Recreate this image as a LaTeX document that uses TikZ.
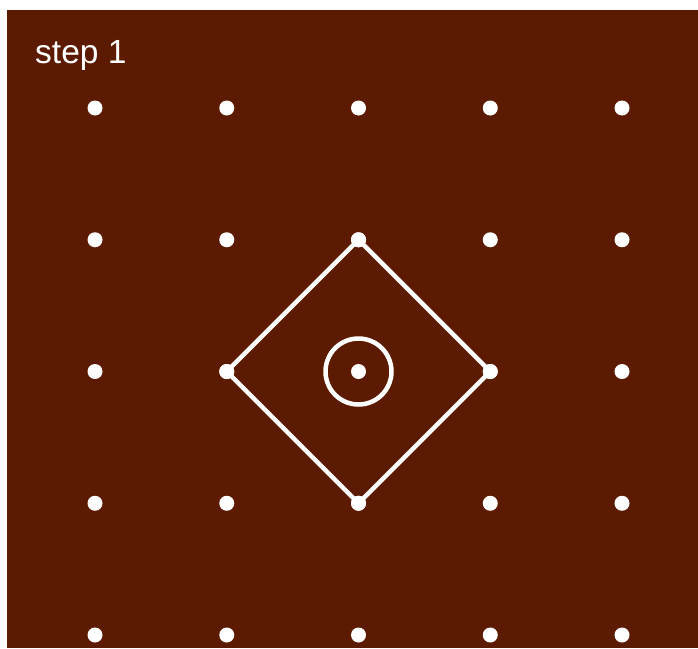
\documentclass[tikz,border=0pt]{standalone}
\usepackage{fontspec}
\setmainfont{Liberation Sans}
\definecolor{bg}{RGB}{92,27,0}
\begin{document}
\begin{tikzpicture}[x=1pt,y=-1pt,
  dot/.style={circle,fill=white,inner sep=0pt,minimum size=15pt},
  ln/.style={white,line width=4.5pt}]
\useasboundingbox (0,0) rectangle (698,648);
\fill[white] (0,0) rectangle (698,648);
\fill[bg] (7,10) rectangle (698,648);
\node[anchor=base west,text=white,font=\fontsize{33.5}{38}\selectfont,inner sep=0pt] (title) at (35,63) {step 1};
\foreach \i [count=\a] in {0,...,4}{
  \foreach \j [count=\b] in {0,...,4}{
    \node[dot] (d\a\b) at ({95+131.75*\i},{108+131.75*\j}) {};
  }
}
\draw[ln,line join=round] (d32.center) -- (d43.center) -- (d34.center) -- (d23.center) -- cycle;
\foreach \n in {d32,d43,d34,d23}{\node[dot] at (\n) {};}
\draw[ln] (d33.center) circle (33);
\end{tikzpicture}
\end{document}
